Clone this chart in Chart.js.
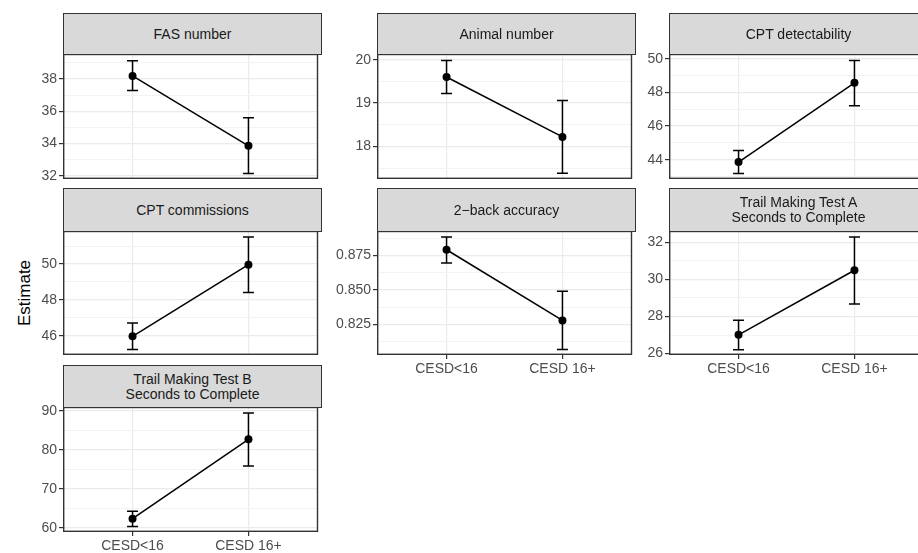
<!DOCTYPE html>
<html>
<head>
<meta charset="utf-8">
<script src="https://cdn.jsdelivr.net/npm/chart.js@4"></script>
<style>
  html, body { margin: 0; padding: 0; background: #fff; overflow: hidden; width: 918px; height: 553px; }
  body { position: relative; font-family: "Liberation Sans", Arial, sans-serif; }
  .panel { position: absolute; }
  .panel canvas { position: absolute; left: 0; top: 0; }
  .strip {
    position: absolute; box-sizing: border-box; background: #d9d9d9; border: 1px solid #333;
    color: #1a1a1a; font-size: 14px; line-height: 15px; display: flex; align-items: center;
    justify-content: center; text-align: center; z-index: 2;
  }
  .ylab {
    position: absolute; left: 25px; top: 293px; transform: translate(-50%, -50%) rotate(-90deg);
    font-size: 17px; color: #000; white-space: nowrap;
  }
</style>
</head>
<body>
<div class="ylab">Estimate</div>
<script>
// ---- data ----
const groups = ["CESD<16", "CESD 16+"];
const panelTitles = [
  ["FAS number"],
  ["Animal number"],
  ["CPT detectability"],
  ["CPT commissions"],
  ["2\u2212back accuracy"],
  ["Trail Making Test A", "Seconds to Complete"],
  ["Trail Making Test B", "Seconds to Complete"]
];
const estimates = [[38.19, 33.86], [19.60, 18.22], [43.86, 48.57], [45.96, 49.96], [0.8791, 0.8279], [27.01, 30.50], [62.4, 82.7]];
const lower     = [[37.28, 32.14], [19.22, 17.38], [43.18, 47.20], [45.22, 48.41], [0.8695, 0.8067], [26.20, 28.68], [60.4, 75.9]];
const upper     = [[39.13, 35.59], [19.98, 19.06], [44.55, 49.90], [46.71, 51.50], [0.8883, 0.8491], [27.80, 32.29], [64.3, 89.4]];
const yTickLabels = [
  ["32", "34", "36", "38"],
  ["18", "19", "20"],
  ["44", "46", "48", "50"],
  ["46", "48", "50"],
  ["0.825", "0.850", "0.875"],
  ["26", "28", "30", "32"],
  ["60", "70", "80", "90"]
];
const yMin = [31.80, 17.25, 42.85, 44.92, 0.8028, 25.92, 59.0];
const yMax = [39.55, 20.13, 50.28, 51.84, 0.8927, 32.62, 90.95];

// ---- layout ----
const AXIS_W = 60, PLOT_W = 259, BOTTOM = 30;
const colLeft = [63, 377, 669];
const rowTop = [13, 188, 365];
const stripH = [41, 43, 42];
const plotH = [125, 124, 125];
const showX = [false, false, false, false, true, true, true];
const FONT = "'Liberation Sans', Arial, sans-serif";

const same = (a, b) => Math.abs(a - b) < 1e-9;

function errorBars(i) {
  return {
    id: "errorBars",
    beforeDatasetsDraw(chart) {
      const { ctx, scales: { x, y } } = chart;
      ctx.save();
      ctx.strokeStyle = "#000";
      ctx.lineWidth = 1.5;
      groups.forEach((g, k) => {
        const px = x.getPixelForValue(k);
        const lo = y.getPixelForValue(lower[i][k]);
        const hi = y.getPixelForValue(upper[i][k]);
        ctx.beginPath();
        ctx.moveTo(px, lo); ctx.lineTo(px, hi);
        ctx.moveTo(px - 5.5, lo); ctx.lineTo(px + 5.5, lo);
        ctx.moveTo(px - 5.5, hi); ctx.lineTo(px + 5.5, hi);
        ctx.stroke();
      });
      ctx.restore();
    }
  };
}

// panel frame, drawn over the data like ggplot's panel.border
const panelBorder = {
  id: "panelBorder",
  afterDraw(chart) {
    const { ctx, chartArea: a } = chart;
    ctx.save();
    ctx.strokeStyle = "#333";
    ctx.lineWidth = 1.4;
    ctx.strokeRect(Math.round(a.left) + 0.7, Math.round(a.top) + 0.5, Math.round(a.width) - 1.2, Math.round(a.height) - 1.2);
    ctx.restore();
  }
};

panelTitles.forEach((title, i) => {
  const col = i % 3, row = Math.floor(i / 3);
  const sh = stripH[row], ph = plotH[row];
  const box = document.createElement("div");
  box.className = "panel";
  box.style.left = (colLeft[col] - AXIS_W) + "px";
  box.style.top = rowTop[row] + "px";
  box.style.width = (AXIS_W + PLOT_W) + "px";
  box.style.height = (sh + ph + BOTTOM) + "px";

  const strip = document.createElement("div");
  strip.className = "strip";
  strip.style.left = AXIS_W + "px";
  strip.style.top = "0px";
  strip.style.width = PLOT_W + "px";
  strip.style.height = (sh + 1) + "px";
  strip.innerHTML = title.join("<br>");

  const cv = document.createElement("canvas");
  cv.width = AXIS_W + PLOT_W;
  cv.height = sh + ph + BOTTOM;
  box.appendChild(cv);
  box.appendChild(strip);
  document.body.appendChild(box);

  const majors = yTickLabels[i].map(Number);
  const step = majors[1] - majors[0];
  const minors = [majors[0] - step / 2].concat(majors.map(v => v + step / 2))
    .filter(v => v > yMin[i] && v < yMax[i]);
  const allTicks = majors.concat(minors).sort((a, b) => a - b);
  const isMajor = v => majors.some(m => same(m, v));

  new Chart(cv, {
    type: "line",
    data: {
      datasets: [{
        data: estimates[i].map((v, k) => ({ x: k, y: v })),
        borderColor: "#000",
        backgroundColor: "#000",
        borderWidth: 1.5,
        pointRadius: 4,
        pointHoverRadius: 4,
        pointBorderWidth: 0,
        tension: 0
      }]
    },
    options: {
      responsive: false,
      animation: false,
      events: [],
      layout: { padding: { top: sh, bottom: showX[i] ? 0 : BOTTOM, left: 0, right: 0 } },
      plugins: { legend: { display: false }, tooltip: { enabled: false } },
      scales: {
        x: {
          type: "linear",
          min: -0.6,
          max: 1.6,
          afterBuildTicks: s => { s.ticks = groups.map((g, k) => ({ value: k })); },
          afterFit: s => { s.height = showX[i] ? BOTTOM : 0; s.paddingLeft = 0; s.paddingRight = 0; },
          ticks: {
            display: showX[i],
            callback: v => groups[v],
            color: "#4d4d4d",
            font: { size: 14, family: FONT },
            padding: 2,
            maxRotation: 0,
            autoSkip: false
          },
          grid: { color: "#ebebeb", lineWidth: 1.2, drawTicks: showX[i], tickLength: 4, tickColor: "#333" },
          border: { display: false }
        },
        y: {
          min: yMin[i],
          max: yMax[i],
          afterBuildTicks: s => { s.ticks = allTicks.map(v => ({ value: v })); },
          afterFit: s => { s.width = AXIS_W; s.paddingTop = 0; s.paddingBottom = 0; },
          ticks: {
            callback: v => {
              const k = majors.findIndex(m => same(m, v));
              return k >= 0 ? yTickLabels[i][k] : "";
            },
            color: "#4d4d4d",
            font: { size: 14, family: FONT },
            padding: 2,
            autoSkip: false
          },
          grid: {
            color: c => (c.tick && isMajor(c.tick.value)) ? "#ebebeb" : "#f3f3f3",
            lineWidth: c => (c.tick && isMajor(c.tick.value)) ? 1.2 : 1,
            tickLength: 4,
            tickColor: c => (c.tick && isMajor(c.tick.value)) ? "#333" : "rgba(0,0,0,0)"
          },
          border: { display: false }
        }
      }
    },
    plugins: [errorBars(i), panelBorder]
  });
});
</script>
</body>
</html>
